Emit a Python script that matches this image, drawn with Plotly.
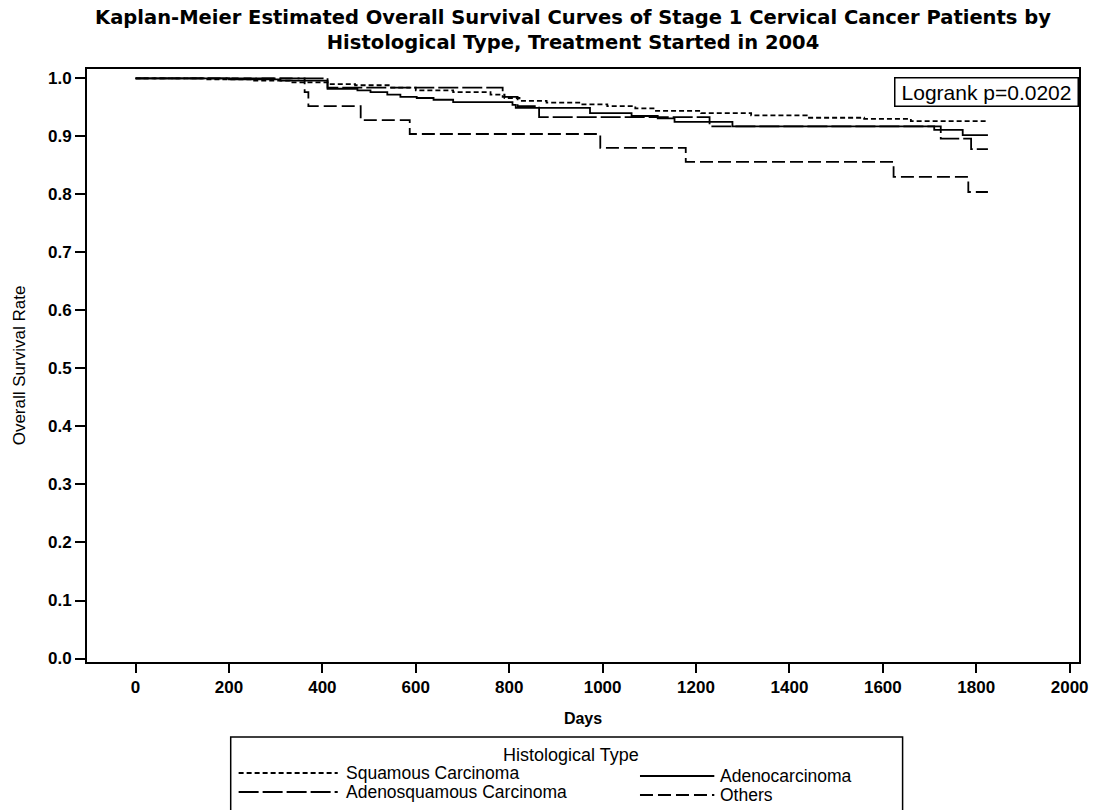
import plotly.graph_objects as go

# ---------------- data ----------------
groups = ["Squamous Carcinoma", "Adenocarcinoma", "Adenosquamous Carcinoma", "Others"]

squamous_days = [0, 150, 250, 330, 411, 470, 545, 600, 680, 760, 790, 822, 880, 950, 1010,
                 1070, 1111, 1211, 1318, 1437, 1560, 1660, 1825]
squamous_surv = [1.0, 0.998, 0.996, 0.993, 0.990, 0.988, 0.984, 0.979, 0.976, 0.972, 0.966,
                 0.961, 0.958, 0.955, 0.952, 0.948, 0.944, 0.940, 0.936, 0.932, 0.930, 0.926, 0.926]

adeno_days = [0, 200, 310, 411, 475, 503, 539, 567, 602, 638, 680, 807, 814, 973, 1062,
              1118, 1154, 1278, 1710, 1771, 1825]
adeno_surv = [1.0, 0.998, 0.996, 0.982, 0.979, 0.976, 0.972, 0.968, 0.966, 0.963, 0.959,
              0.954, 0.949, 0.940, 0.935, 0.931, 0.925, 0.917, 0.911, 0.902, 0.902]

adenosq_days = [0, 411, 786, 818, 864, 1229, 1724, 1789, 1825]
adenosq_surv = [1.0, 0.984, 0.968, 0.952, 0.933, 0.917, 0.896, 0.878, 0.878]

others_days = [0, 362, 370, 482, 587, 995, 1178, 1623, 1783, 1825]
others_surv = [1.0, 0.976, 0.952, 0.928, 0.904, 0.880, 0.856, 0.830, 0.804, 0.804]

x_ticks = [0, 200, 400, 600, 800, 1000, 1200, 1400, 1600, 1800, 2000]
y_ticks = [0.0, 0.1, 0.2, 0.3, 0.4, 0.5, 0.6, 0.7, 0.8, 0.9, 1.0]

logrank_text = "Logrank p=0.0202"
legend_title = "Histological Type"

# ---------------- styles ----------------
FONT = "Liberation Sans, Arial, sans-serif"
TITLE_FONT = "DejaVu Sans, Liberation Sans, sans-serif"
dashes = {
    "Squamous Carcinoma": "5px,3px",
    "Adenocarcinoma": "solid",
    "Adenosquamous Carcinoma": "20px,4px",
    "Others": "13px,5px",
}
LW = 1.8

series = [
    ("Squamous Carcinoma", squamous_days, squamous_surv),
    ("Adenocarcinoma", adeno_days, adeno_surv),
    ("Adenosquamous Carcinoma", adenosq_days, adenosq_surv),
    ("Others", others_days, others_surv),
]

fig = go.Figure()
for name, d, s in series:
    fig.add_trace(go.Scatter(
        x=d, y=s, name=name, mode="lines", line_shape="hv",
        line=dict(color="black", width=LW, dash=dashes[name]),
        showlegend=False,
    ))

# plot-area pixel geometry
W, H = 1100, 810
L, R, T, B = 87, 12, 69, 148
pw, ph = W - L - R, H - T - B


def px(x):
    return (x - L) / pw


def py(y):
    return (H - B - y) / ph


fig.update_layout(
    width=W, height=H,
    margin=dict(l=L, r=R, t=T, b=B),
    plot_bgcolor="white", paper_bgcolor="white",
    font=dict(family=FONT, color="black"),
    title=dict(
        text="Kaplan-Meier Estimated Overall Survival Curves of Stage 1 Cervical Cancer Patients by<br>"
             "Histological Type, Treatment Started in 2004",
        x=573 / W, xanchor="center", y=1 - 24 / H, yanchor="top",
        font=dict(size=19.5, weight="bold", family=TITLE_FONT),
    ),
)

fig.update_xaxes(
    range=[-104, 2020], tickvals=x_ticks, ticks="outside", ticklen=9, tickwidth=1.5,
    tickcolor="black", showline=True, linewidth=1.8, linecolor="black", mirror=True,
    showgrid=False, zeroline=False,
    tickfont=dict(size=17, weight="bold", family=FONT),
    title=dict(text="Days", font=dict(size=16, weight="bold", family=FONT), standoff=17),
)
fig.update_yaxes(
    range=[-0.006, 1.016], tickvals=y_ticks, tickformat=".1f", ticks="outside", ticklen=10,
    tickwidth=1.5, tickcolor="black", showline=True, linewidth=1.8, linecolor="black",
    mirror=True, showgrid=False, zeroline=False,
    tickfont=dict(size=17, weight="bold", family=FONT),
    title=dict(text="Overall Survival Rate", font=dict(size=17, family=FONT), standoff=18),
)

# Logrank box
fig.add_annotation(
    xref="paper", yref="paper", x=px(995), y=py(92.5), xanchor="center", yanchor="middle",
    text=logrank_text, showarrow=False, font=dict(size=21, family=FONT),
    bordercolor="black", borderwidth=1.5, borderpad=1, bgcolor="white",
    width=180, height=25,
)

# Legend box (drawn under the plot)
fig.add_shape(type="rect", xref="paper", yref="paper",
              x0=px(232), x1=px(910), y0=py(737), y1=py(830),
              line=dict(color="black", width=1.5), fillcolor="white")
fig.add_annotation(xref="paper", yref="paper", x=px(575), y=py(755), xanchor="center",
                   yanchor="middle", text=legend_title, showarrow=False,
                   font=dict(size=18, family=FONT))

legend_pos = {
    "Squamous Carcinoma": (240, 340, 346, 773),
    "Adenocarcinoma": (645, 720, 724, 776),
    "Adenosquamous Carcinoma": (240, 340, 346, 792),
    "Others": (645, 720, 724, 795),
}
for name in groups:
    x0, x1, tx, yy = legend_pos[name]
    fig.add_shape(type="line", xref="paper", yref="paper", x0=px(x0), x1=px(x1),
                  y0=py(yy), y1=py(yy), line=dict(color="black", width=LW, dash=dashes[name]))
    fig.add_annotation(xref="paper", yref="paper", x=px(tx), y=py(yy), xanchor="left",
                       yanchor="middle", text=name, showarrow=False,
                       font=dict(size=17.5, family=FONT))

fig.write_html("out.html", config={"displayModeBar": False},
               post_script="document.body.style.margin='0';")
